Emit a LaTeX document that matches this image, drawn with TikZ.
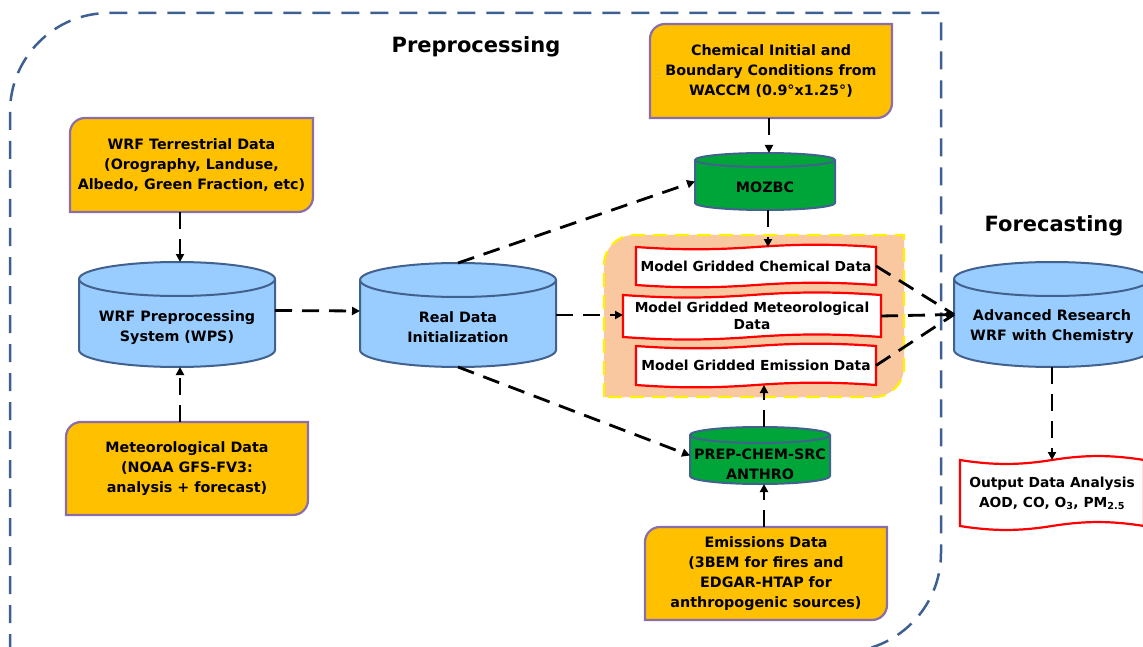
\documentclass[tikz,border=0pt]{standalone}
\usepackage{fontspec}
\setmainfont{DejaVu Sans}
\usetikzlibrary{arrows.meta,calc}

\definecolor{yfill}{HTML}{FFC000}
\definecolor{ydraw}{HTML}{8A6DAB}
\definecolor{bfill}{HTML}{99CCFF}
\definecolor{bdraw}{HTML}{41618E}
\definecolor{gfill}{HTML}{00A53A}
\definecolor{ofill}{HTML}{FAC8A0}
\definecolor{bordercol}{HTML}{3D6090}

\tikzset{
  yshape/.style={fill=yfill, draw=ydraw, line width=2.2pt},
  oshape/.style={fill=ofill, draw=yellow, line width=2.2pt, dash pattern=on 14pt off 8pt},
  bcyl/.style={fill=bfill, draw=bdraw, line width=2pt},
  gcyl/.style={fill=gfill, draw=bdraw, line width=2pt},
  tapestyle/.style={fill=white, draw=red, line width=2.2pt},
  boxtext/.style={font=\bfseries\fontsize{14.3}{20}\selectfont, align=center, inner sep=0pt, outer sep=0pt},
  tapetext/.style={font=\bfseries\fontsize{13.8}{20}\selectfont, align=center, inner sep=0pt, outer sep=0pt},
  anchorbox/.style={draw=none, inner sep=0pt, outer sep=0pt},
  conn/.style={line width=2.8pt, dash pattern=on 17pt off 10pt, -{Triangle[length=8pt,width=8pt]}},
  bigframe/.style={draw=bordercol, line width=2.5pt, dash pattern=on 18pt off 11pt},
  titletext/.style={font=\bfseries\fontsize{21}{25}\selectfont},
}

% name, x1, y1, x2, y2 (page pixels, y downward), text
\newcommand\ybox[6]{%
  \draw[yshape] (#2,-#5) -- (#2,-#3-15) arc[start angle=180,end angle=90,radius=15]
     -- (#4,-#3) -- (#4,-#5+15) arc[start angle=0,end angle=-90,radius=15] -- cycle;
  \node[boxtext, minimum width=#4-#2, minimum height=#5-#3] (#1) at ({(#2+#4)/2},{-(#3+#5)/2}) {#6};
}
% name, x1, y1, x2, y2, ry, style, text y, text
\newcommand\cyl[9]{%
  \path[#7] (#2,-#3-#6) -- (#2,-#5+#6)
     arc[start angle=180,end angle=360,x radius={(#4-#2)/2},y radius=#6]
     -- (#4,-#3-#6)
     arc[start angle=0,end angle=180,x radius={(#4-#2)/2},y radius=#6] -- cycle;
  \path[#7,fill=none] (#2,-#3-#6) arc[start angle=180,end angle=360,x radius={(#4-#2)/2},y radius=#6];
  \node[anchorbox, minimum width=#4-#2, minimum height=#5-#3] (#1) at ({(#2+#4)/2},{-(#3+#5)/2}) {};
  \node[boxtext] (#1-t) at ({(#2+#4)/2},-#8) {#9};
}
% name, x1, top, x2, bottom, text
\newcommand\tapedoc[6]{%
  \pgfmathsetmacro\tA{0.08*(#5-#3)}%
  \pgfmathsetmacro\tL{(#4-#2)/2}%
  \draw[tapestyle] (#2,-#3) .. controls +(0.36*\tL,-\tA) and +(-0.36*\tL,-\tA) .. ({#2+\tL},-#3)
     .. controls +(0.36*\tL,\tA) and +(-0.36*\tL,\tA) .. (#4,-#3)
     -- (#4,-#5) .. controls +(-0.36*\tL,\tA) and +(0.36*\tL,\tA) .. ({#2+\tL},-#5)
     .. controls +(-0.36*\tL,-\tA) and +(0.36*\tL,-\tA) .. (#2,-#5) -- cycle;
  \node[tapetext, minimum width=#4-#2, minimum height=#5-#3] (#1) at ({(#2+#4)/2},{-(#3+#5)/2}) {#6};
}

\begin{document}
\begin{tikzpicture}[x=1pt,y=1pt]
\useasboundingbox (0,0) rectangle (1143,-647);
\clip (0,0) rectangle (1143,-647);

% big dashed preprocessing frame (rounded top-left and bottom-right)
\draw[bigframe] (10,-652) -- (10,-112) arc[start angle=180,end angle=90,radius=99]
   -- (941,-13) -- (941,-553) arc[start angle=0,end angle=-90,radius=99] -- cycle;

% orange group region
\draw[oshape] (604,-397) -- (604,-265) arc[start angle=180,end angle=90,radius=30]
   -- (904,-235) -- (904,-367) arc[start angle=0,end angle=-90,radius=30] -- cycle;

% input boxes
\ybox{terr}{70}{118}{313}{212}{WRF Terrestrial Data\\(Orography, Landuse,\\Albedo, Green Fraction, etc)}
\ybox{met}{66}{422}{308}{515}{Meteorological Data\\(NOAA GFS-FV3:\\analysis + forecast)}
\ybox{chemic}{650}{24}{892}{118}{Chemical Initial and\\Boundary Conditions from\\WACCM (0.9°x1.25°)}
\ybox{emis}{645}{527}{887}{620}{Emissions Data\\(3BEM for fires and\\EDGAR-HTAP for\\anthropogenic sources)}

% cylinders
\cyl{wps}{79}{262}{275}{367}{17}{bcyl}{328}{WRF Preprocessing\\System (WPS)}
\cyl{rd}{360}{263}{556}{367}{17}{bcyl}{327}{Real Data\\Initialization}
\cyl{arw}{954}{262}{1150}{367}{17}{bcyl}{327}{Advanced Research\\WRF with Chemistry}
\cyl{mozbc}{695}{153}{835}{210}{7}{gcyl}{187}{MOZBC}
\cyl{prep}{690}{427}{830}{484}{8}{gcyl}{464}{PREP-CHEM-SRC\\ANTHRO}

% tape documents
\tapedoc{chemdoc}{636}{247}{876}{285}{Model Gridded Chemical Data}
\tapedoc{metdoc}{623}{295}{881}{337}{Model Gridded Meteorological\\[-3pt]Data}
\tapedoc{emisdoc}{636}{346}{876}{385}{Model Gridded Emission Data}
\tapedoc{outdoc}{960}{460}{1144}{526}{Output Data Analysis\\AOD, CO, O\textsubscript{3}, PM\textsubscript{2.5}}

% titles
\node[titletext] (pre) at (476,-47) {Preprocessing};
\node[titletext] (fore) at (1054,-226) {Forecasting};

% connectors
\coordinate (xa) at (180,0);
\coordinate (xb) at (769,0);
\coordinate (xc) at (768,0);
\coordinate (xd) at (764,0);
\draw[conn] (terr.south -| xa) -- (wps.north -| xa);
\draw[conn] (met.north -| xa) -- (wps.south -| xa);
\draw[conn] ([yshift=4pt]wps.east) -- ([yshift=4pt]rd.west);
\draw[conn] (rd.east) -- (rd.east -| metdoc.west);
\draw[conn] (rd.north) -- (mozbc.west);
\draw[conn] (rd.south) -- (prep.west);
\draw[conn] (chemic.south -| xb) -- (mozbc.north -| xb);
\draw[conn] (mozbc.south -| xc) -- (chemdoc.north -| xc);
\draw[conn] (prep.north -| xd) -- (emisdoc.south -| xd);
\draw[conn] (emis.north -| xd) -- (prep.south -| xd);
\draw[conn,-] (chemdoc.east) -- (arw.west);
\draw[conn,-] (emisdoc.east) -- (arw.west);
\draw[conn,-{Diamond[length=10pt,width=9pt]}] (metdoc.east) -- (arw.west);
\draw[conn] (arw.south) -- (outdoc.north);
\end{tikzpicture}
\end{document}
